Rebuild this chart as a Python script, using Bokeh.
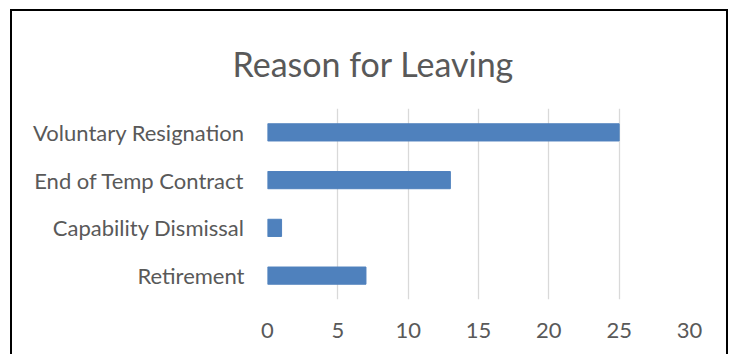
from bokeh.plotting import figure
from bokeh.models import SingleIntervalTicker, ColumnDataSource
from bokeh.embed import file_html
from bokeh.resources import INLINE

categories = ["Retirement", "Capability Dismissal", "End of Temp Contract", "Voluntary Resignation"]
counts = [7, 1, 13, 25]
title_text = "Reason for Leaving"

FONT = "Lato"
GREY = "#595959"

src = ColumnDataSource(dict(cat=categories, val=counts))

p = figure(y_range=categories, x_range=(0, 30), width=718, height=345,
           output_backend="svg", toolbar_location=None, title=title_text,
           min_border_left=255, min_border_right=41, min_border_top=97, min_border_bottom=57)
p.styles = {"margin-left": "10px", "margin-top": "9px",
            "border-left": "2px solid black", "border-top": "2px solid black",
            "border-right": "2px solid black"}

p.hbar(y="cat", right="val", left=0, height=0.36, source=src, color="#4F81BD")

p.title.align = "left"
p.title.offset = -35
p.title.text_font = FONT
p.title.text_font_style = "normal"
p.title.text_font_size = "34px"
p.title.text_color = GREY
p.title.standoff = 50

p.outline_line_color = None
p.ygrid.grid_line_color = None
p.xgrid.grid_line_color = "#d9d9d9"
p.xgrid.grid_line_width = 1.3
p.xaxis.ticker = SingleIntervalTicker(interval=5)
for ax in (p.xaxis, p.yaxis):
    ax.axis_line_color = None
    ax.major_tick_line_color = None
    ax.minor_tick_line_color = None
    ax.major_label_text_font = FONT
    ax.major_label_text_color = GREY
    ax.major_label_text_font_size = "22px"
p.xaxis.major_label_standoff = 17
p.yaxis.major_label_standoff = 17

open("out.html", "w").write(file_html(p, INLINE))
